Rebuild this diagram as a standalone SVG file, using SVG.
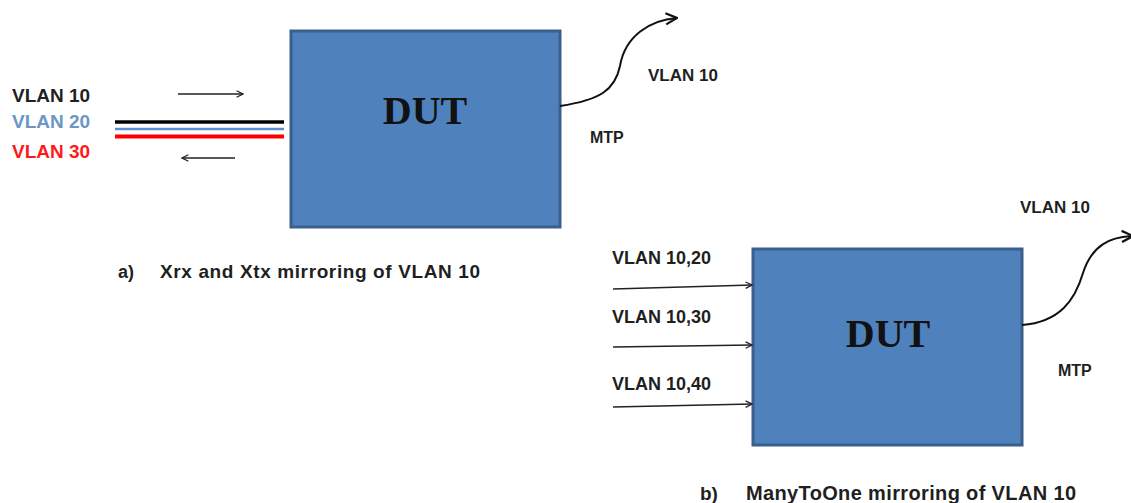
<svg xmlns="http://www.w3.org/2000/svg" width="1131" height="503" viewBox="0 0 1131 503">
<defs>
<style>
.box{fill:#4f81bd;stroke:#3a5f8c;stroke-width:3}
.dut{font-family:"Liberation Serif",serif;font-weight:bold;font-size:40px;fill:#111;text-anchor:middle}
.lbl{font-family:"Liberation Sans",Arial,sans-serif;font-weight:bold;font-size:18px;fill:#1f1f1f}
.cap{font-family:"Liberation Sans",Arial,sans-serif;font-weight:bold;font-size:19px;fill:#1f1f1f}
.wire{fill:none;stroke:#111;stroke-width:2}
.arr{fill:none;stroke:#222;stroke-width:1.6}
</style>
<marker id="head" viewBox="0 0 10 10" refX="9" refY="5" markerWidth="8" markerHeight="8" markerUnits="userSpaceOnUse" orient="auto">
<path d="M1,1 L9,5 L1,9" fill="none" stroke="#222" stroke-width="1.6"/>
</marker>
<marker id="head2" viewBox="0 0 10 10" refX="9" refY="5" markerWidth="14" markerHeight="14" markerUnits="userSpaceOnUse" orient="auto">
<path d="M1,1 L9,5 L1,9" fill="none" stroke="#111" stroke-width="1.6"/>
</marker>
</defs>
<rect width="1131" height="503" fill="#fff"/>
<g id="dut-a">
<rect class="box" x="291" y="31" width="269" height="196"/>
<text class="dut" x="425" y="124">DUT</text>
</g>
<g id="dut-b">
<rect class="box" x="753" y="249" width="269" height="196"/>
<text class="dut" x="888" y="347">DUT</text>
</g>
<g id="labels-a">
<text class="lbl" x="12" y="102" style="font-size:19px">VLAN 10</text>
<text class="lbl" x="12" y="128" style="font-size:19px;fill:#6a96c8">VLAN 20</text>
<text class="lbl" x="12" y="158" style="font-size:19px;fill:#ff1a1a">VLAN 30</text>
<text class="lbl" x="648" y="81" style="font-size:17px">VLAN 10</text>
<text class="lbl" x="590" y="143" style="font-size:16px">MTP</text>
<text class="cap" x="118" y="278" style="font-size:18px">a)</text>
<text class="cap" x="160" y="278" textLength="320">Xrx and Xtx mirroring of VLAN 10</text>
</g>
<g id="labels-b">
<text class="lbl" x="1020" y="213" style="font-size:17px">VLAN 10</text>
<text class="lbl" x="1058" y="376" style="font-size:16px">MTP</text>
<text class="lbl" x="612" y="264">VLAN 10,20</text>
<text class="lbl" x="612" y="323">VLAN 10,30</text>
<text class="lbl" x="612" y="390">VLAN 10,40</text>
<text class="cap" x="700" y="500">b)</text>
<text class="cap" x="746" y="500" style="font-size:20px" textLength="330">ManyToOne mirroring of VLAN 10</text>
</g>
<g id="connectors">
<line x1="115" y1="122" x2="284" y2="122" stroke="#000" stroke-width="3.5"/>
<line x1="115" y1="129" x2="284" y2="129" stroke="#5b8fd0" stroke-width="2.5"/>
<line x1="115" y1="136.5" x2="284" y2="136.5" stroke="#ff0000" stroke-width="4"/>
<line class="arr" x1="178" y1="94" x2="243" y2="94" marker-end="url(#head)"/>
<line class="arr" x1="235" y1="158" x2="182" y2="158" marker-end="url(#head)"/>
<path class="wire" d="M560,106 C600,100 615,90 620,66 C625,36 650,20 677,18" marker-end="url(#head2)"/>
<path class="wire" d="M1022,325 C1060,322 1075,300 1083,273 C1092,245 1110,237 1133,236" marker-end="url(#head2)"/>
<line class="arr" x1="613" y1="289" x2="752" y2="285" marker-end="url(#head)"/>
<line class="arr" x1="613" y1="347" x2="752" y2="345" marker-end="url(#head)"/>
<line class="arr" x1="613" y1="407" x2="752" y2="404" marker-end="url(#head)"/>
</g>
</svg>
